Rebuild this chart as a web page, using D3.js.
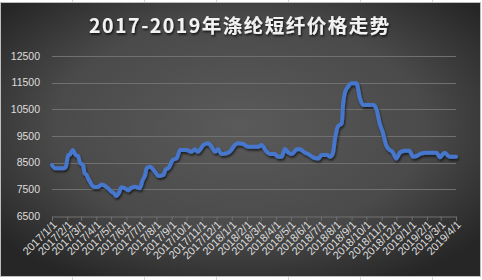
<!DOCTYPE html>
<html><head><meta charset="utf-8">
<script src="https://cdn.jsdelivr.net/npm/d3@7"></script>
<style>
html,body{margin:0;padding:0;background:#fff;}
svg{display:block;}
</style></head>
<body>
<svg id="c" width="482" height="280"></svg>
<script>
const title = "2017-2019年涤纶短纤价格走势";
const yTicks = [6500, 7500, 8500, 9500, 10500, 11500, 12500];
const dates = ["2017-01-01","2017-01-07","2017-01-25","2017-01-29","2017-02-03","2017-02-06","2017-02-12","2017-02-18","2017-02-23","2017-02-27",
"2017-03-05","2017-03-08","2017-03-12","2017-03-15","2017-03-19","2017-03-26","2017-04-04","2017-04-12","2017-04-16","2017-04-25",
"2017-05-02","2017-05-07","2017-05-11","2017-05-17","2017-05-22","2017-05-31","2017-06-05","2017-06-10","2017-06-18","2017-06-24",
"2017-06-28","2017-07-04","2017-07-09","2017-07-12","2017-07-19","2017-07-29","2017-08-05","2017-08-15","2017-08-20","2017-08-25",
"2017-09-03","2017-09-11","2017-09-18","2017-10-01","2017-10-11","2017-10-18","2017-10-24","2017-10-28","2017-11-04","2017-11-14",
"2017-11-21","2017-11-28","2017-12-04","2017-12-11","2017-12-21","2017-12-29","2018-01-07","2018-01-14","2018-01-24","2018-02-03",
"2018-02-24","2018-03-02","2018-03-13","2018-03-19","2018-03-29","2018-04-05","2018-04-12","2018-04-19","2018-04-26","2018-05-03",
"2018-05-13","2018-05-19","2018-05-30","2018-06-05","2018-06-15","2018-06-26","2018-07-02","2018-07-13","2018-07-19","2018-07-25",
"2018-07-29","2018-08-04","2018-08-12","2018-08-15","2018-08-19","2018-08-25","2018-09-01","2018-09-11","2018-09-18","2018-09-25",
"2018-10-16","2018-10-22","2018-10-28","2018-11-04","2018-11-10","2018-11-16","2018-11-23","2018-12-01","2018-12-08","2018-12-18",
"2018-12-27","2019-01-04","2019-01-11","2019-01-21","2019-01-31","2019-02-21","2019-02-27","2019-03-09","2019-03-19","2019-04-01"];
const prices = [8410,8290,8290,8350,8790,8800,8975,8790,8750,8490,
8410,8110,8040,7925,7790,7600,7590,7680,7660,7540,
7410,7350,7250,7380,7575,7520,7460,7550,7600,7570,
7540,7850,8040,8290,8350,8160,8000,8040,8250,8290,
8600,8665,8975,8975,8910,9000,8910,8975,9160,9225,
9100,8910,9000,8825,8850,8940,9160,9225,9200,9100,
9100,9160,8910,8825,8825,8725,8725,9010,8875,8825,
9000,9000,8875,8825,8700,8660,8790,8790,8725,8850,
9350,9850,9975,10725,11160,11350,11475,11475,10910,10660,
10660,10475,9975,9600,9160,9000,8910,8660,8875,8950,
8950,8725,8750,8850,8875,8875,8700,8875,8725,8725];

const svg = d3.select("#c");
const W = 482, H = 280;
const defs = svg.append("defs");
const g = defs.append("radialGradient").attr("id","bg").attr("cx","50%").attr("cy","45%").attr("r","65%");
g.append("stop").attr("offset","0%").attr("stop-color","#5a5a5a");
g.append("stop").attr("offset","60%").attr("stop-color","#4a4a4a");
g.append("stop").attr("offset","100%").attr("stop-color","#262626");
const sh = defs.append("filter").attr("id","ts").attr("x","-10%").attr("y","-30%").attr("width","120%").attr("height","160%");
sh.append("feDropShadow").attr("dx",1).attr("dy",1.5).attr("stdDeviation",1.2).attr("flood-color","#000").attr("flood-opacity",0.8);
const ls = defs.append("filter").attr("id","ls").attr("x","-5%").attr("y","-10%").attr("width","110%").attr("height","130%");
ls.append("feDropShadow").attr("dx",1).attr("dy",2).attr("stdDeviation",1.2).attr("flood-color","#000").attr("flood-opacity",0.6);

// sheet cell lines outside chart
[72,144,216,288,360,432].forEach(x=>{
  svg.append("line").attr("x1",x+0.5).attr("x2",x+0.5).attr("y1",0).attr("y2",H).attr("stroke","#d4d4d4");
});
svg.append("rect").attr("x",0.5).attr("y",2.5).attr("width",480).attr("height",274).attr("fill","url(#bg)").attr("stroke","#bdbdbd");

const x = d3.scaleTime().domain([new Date(2017,0,1), new Date(2019,3,1)]).range([52,456]);
const y = d3.scaleLinear().domain([6500,12500]).range([216,56]);

// gridlines
svg.append("g").selectAll("line").data(yTicks.slice(1)).join("line")
  .attr("x1",52).attr("x2",456).attr("y1",d=>Math.round(y(d))+0.5).attr("y2",d=>Math.round(y(d))+0.5)
  .attr("stroke","#707070").attr("stroke-width",1);

// y labels
svg.append("g").selectAll("text").data(yTicks).join("text")
  .attr("x",40).attr("y",d=>y(d)).attr("dy","0.35em").attr("text-anchor","end")
  .attr("fill","#dedede").attr("font-family","'Liberation Sans',Arial,sans-serif").attr("font-size","10.5px")
  .text(d=>d);

// x axis
const months = d3.timeMonth.range(new Date(2017,0,1), new Date(2019,3,2));
const xAxis = d3.axisBottom(x).tickValues(months).tickSize(4).tickFormat(d3.timeFormat("%Y/%-m/%-d"));
const ax = svg.append("g").attr("transform","translate(0,216.5)").call(xAxis);
ax.select(".domain").attr("stroke","#707070");
ax.selectAll(".tick line").attr("stroke","#707070");
ax.selectAll(".tick text")
  .attr("fill","#dedede").attr("font-family","'Liberation Sans',Arial,sans-serif").attr("font-size","11px")
  .attr("text-anchor","end").attr("dy",null).attr("y",0)
  .attr("transform","translate(5,9) rotate(-45)");

// line
const data = dates.map((d,i)=>({d:new Date(d+"T00:00:00"), v:prices[i]}));
const line = d3.line().x(d=>x(d.d)).y(d=>y(d.v)).curve(d3.curveMonotoneX);
svg.append("path").datum(data).attr("d",line).attr("fill","none")
  .attr("stroke","#4677cc").attr("stroke-width",4).attr("stroke-linejoin","round").attr("stroke-linecap","round")
  .attr("filter","url(#ls)");

// title
svg.append("text").attr("x",240).attr("y",33).attr("text-anchor","middle")
  .attr("fill","#f2f2f2").attr("font-family","'Noto Sans CJK SC','Noto Sans',sans-serif").attr("font-weight","bold")
  .attr("font-size","19.5px").attr("letter-spacing","1.5px").attr("filter","url(#ts)")
  .text(title);
</script>
</body></html>
